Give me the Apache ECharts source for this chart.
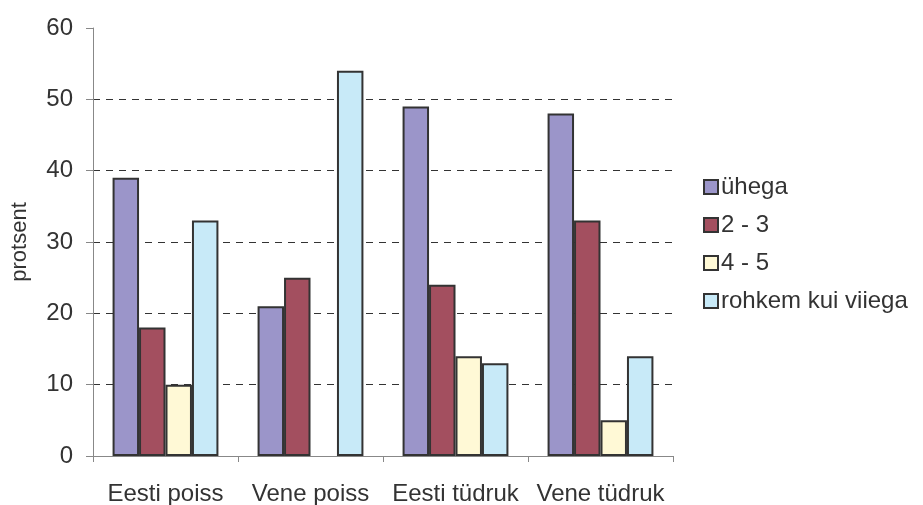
<!DOCTYPE html>
<html>
<head>
<meta charset="utf-8">
<script src="https://cdn.jsdelivr.net/npm/echarts@6/dist/echarts.min.js"></script>
<style>
  html, body { margin: 0; padding: 0; background: #fff; }
  #chart { width: 923px; height: 505px; }
</style>
</head>
<body>
<div id="chart"></div>
<script>
// Categories and series values
const categories = ["Eesti poiss", "Vene poiss", "Eesti tüdruk", "Vene tüdruk"];
const seriesNames = ["ühega", "2 - 3", "4 - 5", "rohkem kui viiega"];
const uhega = [39, 21, 49, 48];
const kaksKolm = [18, 25, 24, 33];
const neliViis = [10, null, 14, 5];
const rohkem = [33, 54, 13, 14];
const yTicks = [0, 10, 20, 30, 40, 50, 60];

const colors = ["#9b95c9", "#a34f5f", "#fff9d6", "#c8eaf8"];
const values = [uhega, kaksKolm, neliViis, rohkem];
const font = "'Liberation Sans', Arial, sans-serif";

const chart = echarts.init(document.getElementById("chart"), null, { renderer: "canvas" });

chart.setOption({
    backgroundColor: "#fff",
    animation: false,
    textStyle: { fontFamily: font },
    grid: { left: 93, right: 250, top: 28, bottom: 49, containLabel: false, outerBoundsMode: "none" },
    legend: {
        orient: "vertical",
        left: 698,
        top: 170,
        itemWidth: 14,
        itemHeight: 14,
        itemGap: 14,
        icon: "rect",
        textStyle: { fontFamily: font, fontSize: 24, color: "#333", lineHeight: 24, padding: [0, 0, 0, -2] },
        data: seriesNames
    },
    xAxis: {
        type: "category",
        data: categories,
        axisLine: { lineStyle: { color: "#888", width: 1 } },
        axisTick: { show: true, interval: 0, length: 6, alignWithLabel: false, lineStyle: { color: "#888" } },
        axisLabel: { interval: 0, hideOverlap: false, fontFamily: font, fontSize: 24, color: "#333", margin: 26 }
    },
    yAxis: {
        type: "value",
        min: yTicks[0],
        max: yTicks[yTicks.length - 1],
        interval: 10,
        name: "protsent",
        nameLocation: "middle",
        nameGap: 62,
        nameTextStyle: { fontFamily: font, fontSize: 22, color: "#333" },
        axisLine: { show: true, lineStyle: { color: "#888", width: 1 } },
        axisTick: { show: true, length: 7, lineStyle: { color: "#888" } },
        axisLabel: { fontFamily: font, fontSize: 24, color: "#333", margin: 20 },
        splitLine: {
            show: true,
            lineStyle: {
                color: ["transparent", "#333", "#333", "#333", "#333", "#333", "transparent"],
                type: [7, 6],
                width: 1
            }
        }
    },
    series: seriesNames.map((name, i) => ({
        name,
        type: "bar",
        data: values[i],
        barGap: "0%",
        barCategoryGap: "27%",
        itemStyle: { color: colors[i], borderColor: "#333", borderWidth: 2 }
    }))
});
</script>
</body>
</html>
